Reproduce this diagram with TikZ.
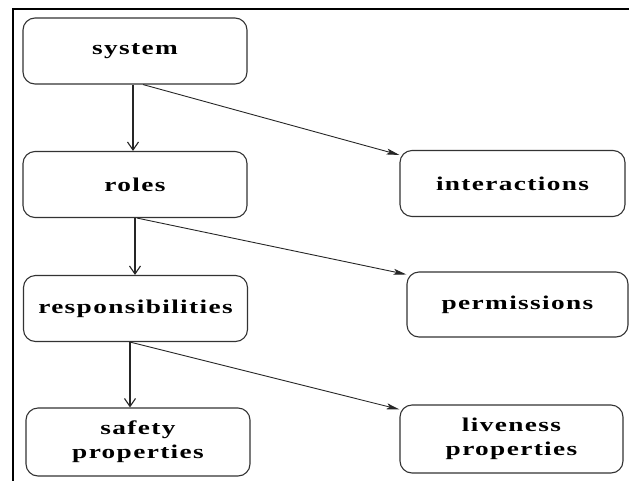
\documentclass[tikz,border=0pt]{standalone}
\usepackage{fontspec}
\usetikzlibrary{arrows.meta}
\newfontfamily\boxfont[FakeStretch=1.4,LetterSpace=7]{Liberation Serif}
\begin{document}
\begin{tikzpicture}[x=1pt,y=-1pt,
  block/.style={draw=black!80,line width=1.1pt,rounded corners=12pt,
    minimum width=#1,minimum height=66pt,align=center,inner sep=0pt,
    font=\boxfont\fontsize{19.5}{24}\selectfont\bfseries},
  block/.default=224pt,
  down/.style={draw=black!85,line width=1.1pt,-{Straight Barb[length=8pt,width=11pt]}},
  side/.style={draw=black!85,line width=0.9pt,-{Stealth[length=13pt,width=6pt,inset=3pt]}}]
\useasboundingbox (0,0) rectangle (629,480);
% outer frame
\begin{scope}
\clip (0,0) rectangle (629,480);
\draw[line width=2pt] (13,500) -- (13,9) -- (640,9);
\end{scope}
% left column
\node[block] (sys)  at (135,51)    {system};
\node[block] (rol)  at (135,184.5) {roles};
\node[block] (resp) at (135.5,308.5) {responsibilities};
\node[block,minimum height=68pt] (safe) at (138,442) {safety\\properties};
% right column
\node[block=225pt] (inter) at (512.5,183.5) {interactions};
\node[block=221pt,minimum height=65pt] (perm) at (517.5,304.5) {permissions};
\node[block=223pt,minimum height=68pt] (live) at (511.5,439) {liveness\\properties};
% refinement arrows
\draw[down] ([xshift=-2pt]sys.south) -- ([xshift=-2pt]rol.north);
\draw[down] (rol.south) -- ([xshift=-0.5pt]resp.north);
\draw[down] ([xshift=-5.5pt]resp.south) -- ([xshift=-8pt]safe.north);
\draw[side] ([xshift=8pt]sys.south) -- ([yshift=-5pt]inter.north west);
\draw[side] ([xshift=2pt]rol.south) -- ([yshift=-3pt]perm.north west);
\draw[side] ([xshift=-5.5pt]resp.south) -- ([yshift=-5pt]live.north west);
\end{tikzpicture}
\end{document}
